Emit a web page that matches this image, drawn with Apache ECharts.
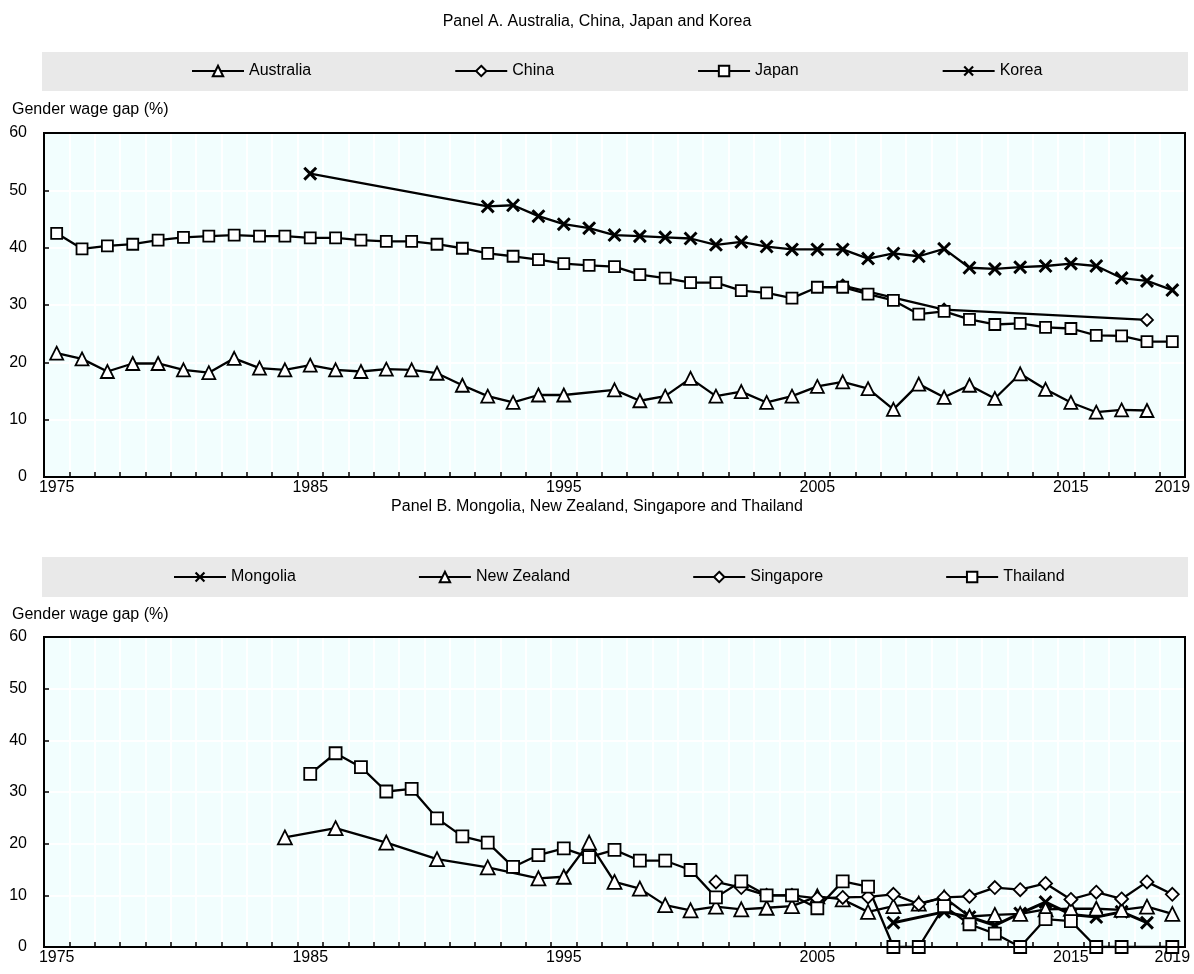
<!DOCTYPE html>
<html><head><meta charset="utf-8">
<script src="https://cdn.jsdelivr.net/npm/echarts@6/dist/echarts.min.js"></script>
<style>html,body{margin:0;padding:0;background:#fff}#c{width:1194px;height:974px}</style>
</head><body><div id="c"></div><script>
const years = ['1975','1976','1977','1978','1979','1980','1981','1982','1983','1984','1985','1986','1987','1988','1989',
'1990','1991','1992','1993','1994','1995','1996','1997','1998','1999','2000','2001','2002','2003','2004',
'2005','2006','2007','2008','2009','2010','2011','2012','2013','2014','2015','2016','2017','2018','2019'];
const shownYears = ['1975','1985','1995','2005','2015','2019'];
const yTicks = [0, 60, 10];
const N = null;
// Panel A
const australia = [21.6,20.6,18.4,19.8,19.8,18.7,18.2,20.7,19.0,18.7,19.5,18.7,18.4,18.8,18.7,
 18.1,16.0,14.1,13.0,14.3,14.3,N,15.2,13.3,14.1,17.2,14.1,14.9,13.0,14.1,
 15.8,16.6,15.4,11.8,16.2,13.9,16.0,13.7,18.0,15.3,13.0,11.3,11.7,11.6,N];
const china = [N,N,N,N,N,N,N,N,N,N,N,N,N,N,N,
 N,N,N,N,N,N,N,N,N,N,N,N,N,N,N,
 N,33.4,N,N,N,29.2,N,N,N,N,N,N,N,27.4,N];
const japan = [42.5,39.8,40.3,40.6,41.3,41.8,42.0,42.2,42.0,42.0,41.7,41.7,41.3,41.1,41.1,
 40.6,39.9,39.0,38.5,37.9,37.2,36.9,36.7,35.3,34.7,33.9,33.9,32.5,32.1,31.2,
 33.1,33.1,31.9,30.8,28.4,28.9,27.5,26.6,26.8,26.1,25.9,24.7,24.6,23.6,23.6];
const korea = [N,N,N,N,N,N,N,N,N,N,52.9,N,N,N,N,
 N,N,47.2,47.4,45.5,44.1,43.4,42.2,42.0,41.8,41.6,40.5,41.0,40.2,39.7,
 39.7,39.7,38.1,39.0,38.5,39.8,36.5,36.3,36.6,36.8,37.2,36.8,34.7,34.2,32.6];
// Panel B
const mongolia = [N,N,N,N,N,N,N,N,N,N,N,N,N,N,N,
 N,N,N,N,N,N,N,N,N,N,N,N,N,N,N,
 N,N,N,4.7,N,6.8,5.8,4.2,6.5,8.7,6.3,5.8,6.8,4.7,N];
const newZealand = [N,N,N,N,N,N,N,N,N,21.2,N,23.0,N,20.2,N,
 17.0,N,15.4,N,13.3,13.6,20.2,12.6,11.3,8.1,7.1,7.8,7.3,7.6,7.9,
 9.8,9.2,6.8,7.9,8.4,9.6,5.9,6.2,6.4,7.3,7.4,7.4,7.2,7.8,6.4];
const singapore = [N,N,N,N,N,N,N,N,N,N,N,N,N,N,N,
 N,N,N,N,N,N,N,N,N,N,N,12.6,11.5,10.0,10.0,
 9.4,9.6,9.7,10.2,8.3,9.6,9.8,11.5,11.1,12.3,9.2,10.6,9.3,12.6,10.2];
const thailand = [N,N,N,N,N,N,N,N,N,N,33.5,37.5,34.8,30.1,30.6,
 24.9,21.4,20.2,15.5,17.8,19.1,17.4,18.8,16.7,16.7,14.9,9.6,12.7,10.0,10.0,
 7.5,12.7,11.7,0,0,7.9,4.4,2.6,0,5.4,5.0,0,0,N,0];

const FONT = "'Liberation Sans', Arial, sans-serif";
const XPATH = 'path://M0,1.5L1.5,0L5,3.5L8.5,0L10,1.5L6.5,5L10,8.5L8.5,10L5,6.5L1.5,10L0,8.5L3.5,5Z';

function ser(name, data, symbol, size, idx, lw) {
  const isX = symbol === XPATH;
  return {
    type: 'line', name, data, xAxisIndex: idx, yAxisIndex: idx,
    connectNulls: true, symbol, symbolSize: size, showAllSymbol: true,
    lineStyle: { color: '#000', width: lw || 2.3 },
    itemStyle: isX ? { color: '#000', borderWidth: 0 } : { color: '#fff', borderColor: '#000', borderWidth: 1.8 },
    emphasis: { disabled: true }, animation: false
  };
}
function xAx(i) {
  return {
    type: 'category', data: years, gridIndex: i, boundaryGap: true,
    axisLine: { lineStyle: { color: '#000', width: 2 } },
    axisTick: { show: true, inside: true, length: 5, interval: 0, lineStyle: { color: '#000', width: 1.5 } },
    axisLabel: { interval: (k, v) => shownYears.includes(v), color: '#000', fontSize: 16, fontFamily: FONT, margin: 3 },
    splitLine: { show: true, interval: 0, lineStyle: { color: '#fff', width: 2 } }
  };
}
function yAx(i) {
  return {
    type: 'value', gridIndex: i, min: yTicks[0], max: yTicks[1], interval: yTicks[2],
    axisLine: { show: true, lineStyle: { color: '#000', width: 2 } },
    axisTick: { show: true, inside: true, length: 5, lineStyle: { color: '#000', width: 1.5 } },
    axisLabel: { color: '#000', fontSize: 16, fontFamily: FONT, margin: 17 },
    splitLine: { show: true, lineStyle: { color: '#fff', width: 2 } }
  };
}
const txt = { fontSize: 16, fontWeight: 'normal', color: '#000', fontFamily: FONT };
const legTxt = { fontSize: 16, color: '#000', fontFamily: FONT };
const chart = echarts.init(document.getElementById('c'));
chart.setOption({
  animation: false,
  backgroundColor: '#fff',
  title: [
    { text: 'Panel A. Australia, China, Japan and Korea', left: 'center', top: 14, padding: 0, textStyle: txt },
    { text: 'Gender wage gap (%)', left: 12, top: 102, padding: 0, textStyle: txt },
    { text: 'Panel B. Mongolia, New Zealand, Singapore and Thailand', left: 'center', top: 499, padding: 0, textStyle: txt },
    { text: 'Gender wage gap (%)', left: 12, top: 607, padding: 0, textStyle: txt }
  ],
  graphic: { elements: [
    { type: 'rect', shape: { x: 42, y: 52, width: 1146, height: 39 }, style: { fill: '#e9e9e9' }, z: -1 },
    { type: 'rect', shape: { x: 42, y: 557, width: 1146, height: 40 }, style: { fill: '#e9e9e9' }, z: -1 },
    { type: 'rect', shape: { x: 44, y: 133, width: 1141, height: 344 }, style: { fill: null, stroke: '#000', lineWidth: 2 }, z: 100 },
    { type: 'rect', shape: { x: 44, y: 637, width: 1141, height: 310 }, style: { fill: null, stroke: '#000', lineWidth: 2 }, z: 100 }
  ]},
  legend: [
    { data: ['Australia', 'China', 'Japan', 'Korea'], left: 191, top: 63, itemGap: 143, itemWidth: 52, itemHeight: 13,
      padding: 0, textStyle: legTxt, selectedMode: false },
    { data: ['Mongolia', 'New Zealand', 'Singapore', 'Thailand'], left: 173, top: 569, itemGap: 122, itemWidth: 52, itemHeight: 13,
      padding: 0, textStyle: legTxt, selectedMode: false }
  ],
  grid: [
    { left: 44, top: 133, width: 1141, height: 344, show: true, backgroundColor: '#f2fefe', borderColor: '#000', borderWidth: 2 },
    { left: 44, top: 637, width: 1141, height: 310, show: true, backgroundColor: '#f2fefe', borderColor: '#000', borderWidth: 2 }
  ],
  xAxis: [xAx(0), xAx(1)],
  yAxis: [yAx(0), yAx(1)],
  series: [
    ser('Australia', australia, 'triangle', 13, 0),
    ser('China', china, 'diamond', 12, 0),
    ser('Japan', japan, 'rect', 11, 0),
    ser('Korea', korea, XPATH, 14, 0),
    ser('Mongolia', mongolia, XPATH, 14, 1, 3),
    ser('New Zealand', newZealand, 'triangle', 14, 1),
    ser('Singapore', singapore, 'diamond', 13, 1),
    ser('Thailand', thailand, 'rect', 12, 1)
  ]
});
</script></body></html>
